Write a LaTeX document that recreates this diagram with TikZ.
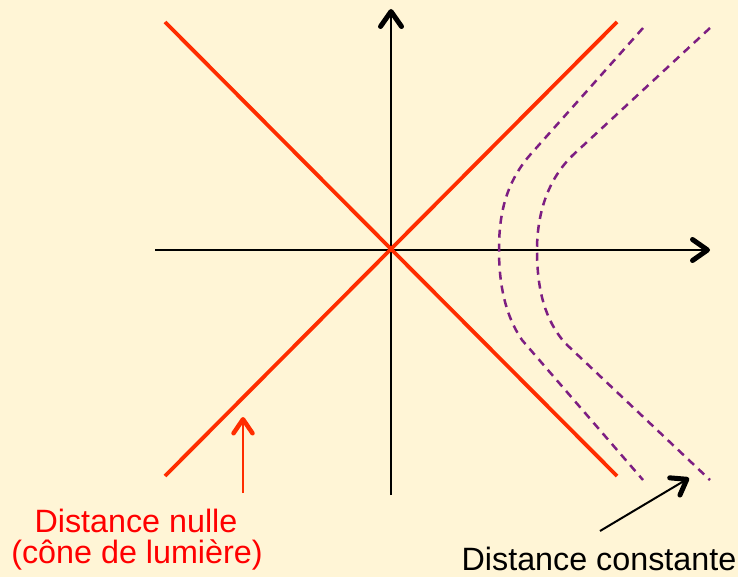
\documentclass[tikz,border=0pt]{standalone}
\usepackage{fontspec}
\setmainfont{Liberation Sans}
\usetikzlibrary{arrows.meta}
\definecolor{bgcol}{RGB}{255,245,214}
\definecolor{conecol}{RGB}{255,45,0}
\definecolor{labred}{RGB}{255,0,0}
\definecolor{hypcol}{RGB}{125,30,130}
\tikzset{
  axis/.style={line width=2pt, black, -{Straight Barb[length=15pt,width=21pt,line width=5pt,round]}},
  cone/.style={line width=3.8pt, conecol},
  hyp/.style={line width=2.5pt, hypcol, dash pattern=on 8pt off 6pt},
  lab/.style={font=\fontsize{32.3}{37}\selectfont, inner sep=0pt, anchor=base},
  redarrow/.style={line width=2pt, conecol, -{Straight Barb[length=14pt,width=19pt,line width=4.5pt,round]}},
  blkarrow/.style={line width=2pt, black, -{Straight Barb[length=14pt,width=20pt,line width=5pt,round]}}
}
\begin{document}
\begin{tikzpicture}[x=1pt,y=-1pt]
\fill[bgcol] (0,0) rectangle (738,577);
\useasboundingbox (0,0) rectangle (738,577);
% coordinates
\coordinate (O) at (391,250);
\coordinate (yb) at (391,495);
\coordinate (yt) at (391,9);
\coordinate (xl) at (155,250);
\coordinate (xr) at (710,250);
\coordinate (c1a) at (165,22);
\coordinate (c1b) at (617,476);
\coordinate (c2a) at (165,476);
\coordinate (c2b) at (617,22);
% axes
\draw[axis] (yb) -- (yt);
\draw[axis] (xl) -- (xr);
% light cone
\draw[cone] (c1a) -- (c1b);
\draw[cone] (c2a) -- (c2b);
% constant distance curves
\coordinate (h1t) at (643,28);
\coordinate (h1v) at (499,250);
\coordinate (h1b) at (643,480);
\coordinate (h2t) at (710,28);
\coordinate (h2v) at (537,250);
\coordinate (h2b) at (710,480);
\draw[hyp] (h1t) -- (530,155) .. controls (504,185) and (499,218) .. (h1v)
  .. controls (499,284) and (505,315) .. (522,340) -- (h1b);
\draw[hyp] (h2t) -- (573,155) .. controls (547,180) and (537,215) .. (h2v)
  .. controls (537,290) and (545,320) .. (565,343) -- (h2b);
% labels
\node[lab, text=labred] (nul1) at (136,532) {Distance nulle};
\node[lab, text=labred] (nul2) at (137,563) {(cône de lumière)};
\node[lab] (cst) at (599,570) {Distance constante};
% pointers
\coordinate (rtail) at (243,493);
\coordinate (rtip) at (243,417);
\draw[redarrow] (rtail) -- (rtip);
\coordinate (btail) at (600,531);
\coordinate (btip) at (689,478);
\draw[blkarrow] (btail) -- (btip);
\end{tikzpicture}
\end{document}
